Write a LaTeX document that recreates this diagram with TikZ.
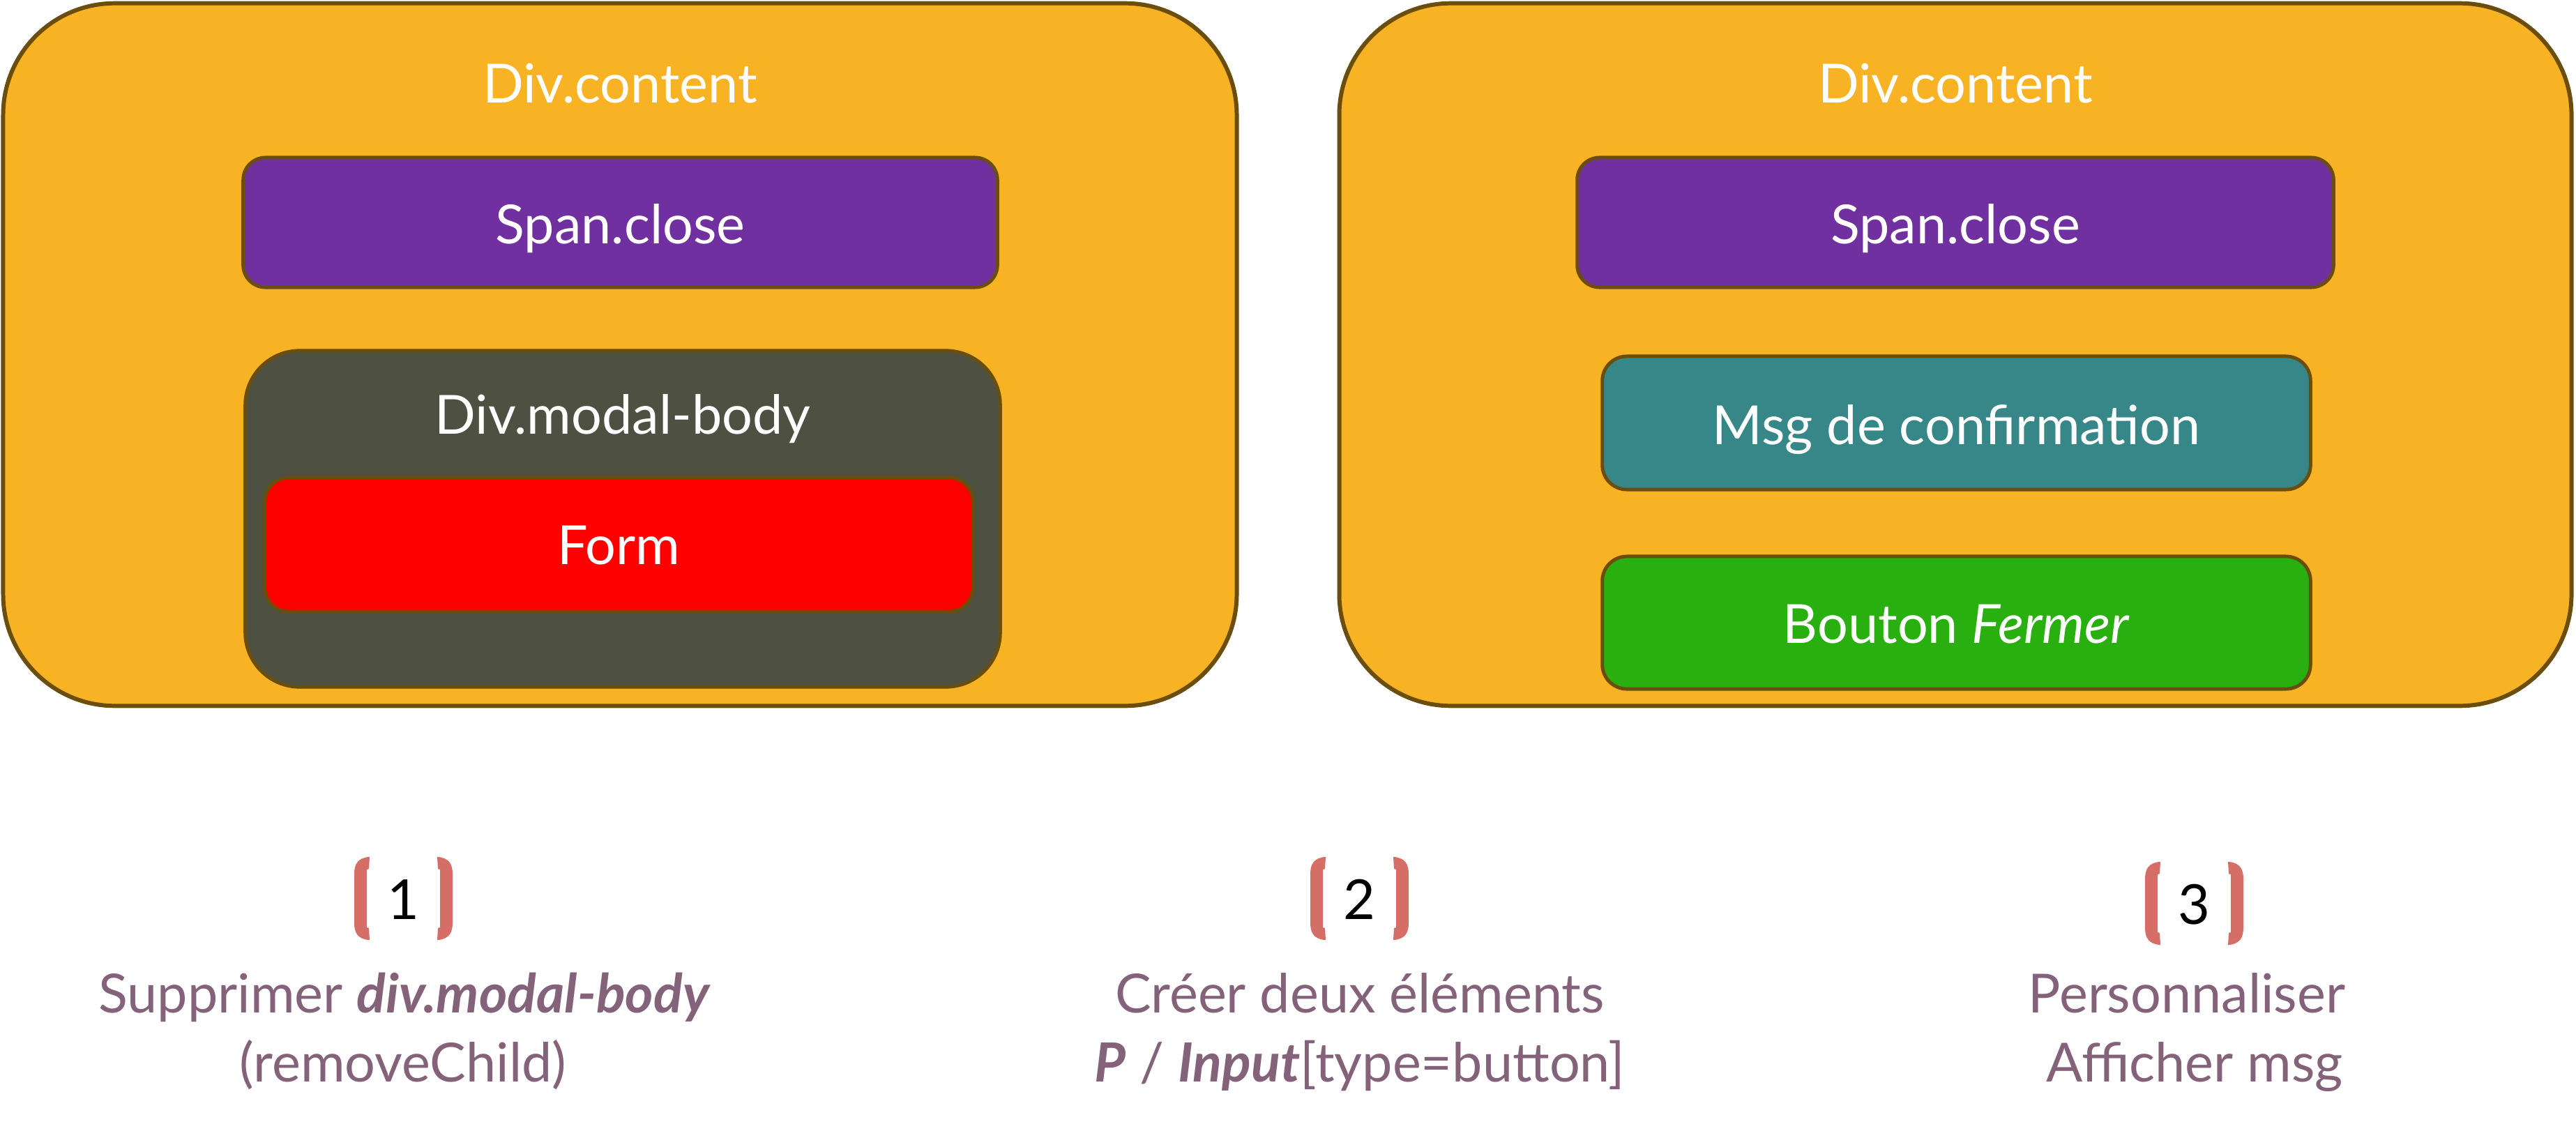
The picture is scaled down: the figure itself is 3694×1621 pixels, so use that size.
\documentclass[tikz,border=0pt]{standalone}
\usepackage{fontspec}
\setmainfont{Lato}
\definecolor{orangebg}{HTML}{F7B324}
\definecolor{brownline}{HTML}{6B4D0C}
\definecolor{purplebox}{HTML}{7030A0}
\definecolor{greybox}{HTML}{4E5142}
\definecolor{redbox}{HTML}{FF0000}
\definecolor{tealbox}{HTML}{378789}
\definecolor{greenbox}{HTML}{29AF10}
\definecolor{mauvetext}{HTML}{83627A}
\definecolor{bracketcol}{HTML}{D46E67}
\tikzset{
  outerbox/.style={draw=brownline, fill=orangebg, line width=1.7pt, rounded corners=45.5pt, inner sep=0pt},
  innerbox/.style={draw=brownline, line width=1.4pt, inner sep=0pt},
  boxlabel/.style={anchor=base, inner sep=0pt, text=white, font=\fontsize{22}{27}\selectfont},
  caption/.style={anchor=base, inner sep=0pt, text=mauvetext, font=\fontsize{22}{27}\selectfont},
  numlabel/.style={anchor=base, inner sep=0pt, text=black, font=\fontsize{22.5}{27}\selectfont},
  bracketpair/.pic={
    \fill[bracketcol] (20,0) .. controls (5,2) and (0,10) .. (0,25) -- (0,94)
      .. controls (0,109) and (5,117) .. (20,119) -- (22,119) -- (21,102) -- (18,101)
      -- (18,18) -- (21,17) -- (22,0) -- cycle;
    \fill[bracketcol] (121,0) .. controls (136,2) and (141,10) .. (141,25) -- (141,94)
      .. controls (141,109) and (136,117) .. (121,119) -- (119,119) -- (120,102) -- (123,101)
      -- (123,18) -- (120,17) -- (119,0) -- cycle;
  }
}
\begin{document}
\begin{tikzpicture}[x=0.01cm, y=-0.01cm]
\useasboundingbox (0,0) rectangle (3694,1621);
% left panel
\node[outerbox, minimum width=17.68cm, minimum height=10.07cm] (outerL) at (889,508.5) {};
\node[boxlabel] (titleL) at (889,147) {Div.content};
\node[innerbox, fill=purplebox, rounded corners=9.1pt, minimum width=10.81cm, minimum height=1.86cm] (spanL) at (889.5,319) {};
\node[boxlabel] (spanLtxt) at (889.5,349) {Span.close};
\node[innerbox, fill=greybox, rounded corners=22.2pt, minimum width=10.82cm, minimum height=4.82cm] (modal) at (893,744) {};
\node[boxlabel] (modaltxt) at (893,622) {Div.modal-body};
\node[innerbox, fill=redbox, rounded corners=9.7pt, minimum width=10.15cm, minimum height=1.92cm] (form) at (887.5,781) {};
\node[boxlabel] (formtxt) at (887.5,809.5) {Form};
% right panel
\node[outerbox, minimum width=17.66cm, minimum height=10.07cm] (outerR) at (2804,508.5) {};
\node[boxlabel] (titleR) at (2804,147) {Div.content};
\node[innerbox, fill=purplebox, rounded corners=9.1pt, minimum width=10.84cm, minimum height=1.86cm] (spanR) at (2804,319) {};
\node[boxlabel] (spanRtxt) at (2804,349) {Span.close};
\node[innerbox, fill=tealbox, rounded corners=10pt, minimum width=10.15cm, minimum height=1.91cm] (msg) at (2805.5,606.5) {};
\node[boxlabel] (msgtxt) at (2805.5,637) {Msg de confirmation};
\node[innerbox, fill=greenbox, rounded corners=10pt, minimum width=10.15cm, minimum height=1.90cm] (btn) at (2805.5,893) {};
\node[boxlabel] (btntxt) at (2805.5,922) {Bouton \textit{Fermer}};
% steps
\pic at (508,1229) {bracketpair};
\node[numlabel] (n1) at (578.5,1318) {1};
\node[caption] (c1a) at (580,1452) {Supprimer \textbf{\textit{div.modal-body}}};
\node[caption] (c1b) at (578,1551) {(removeChild)};
\pic at (1879,1229) {bracketpair};
\node[numlabel] (n2) at (1949.5,1318) {2};
\node[caption] (c2a) at (1950,1452) {Créer deux éléments};
\node[caption] (c2b) at (1950,1551) {\textbf{\textit{P}} / \textbf{\textit{Input}}[type=button]};
\pic at (3076,1236) {bracketpair};
\node[numlabel] (n3) at (3146.5,1325) {3};
\node[caption] (c3a) at (3136,1452) {Personnaliser};
\node[caption] (c3b) at (3147,1551) {Afficher msg};
\end{tikzpicture}
\end{document}
